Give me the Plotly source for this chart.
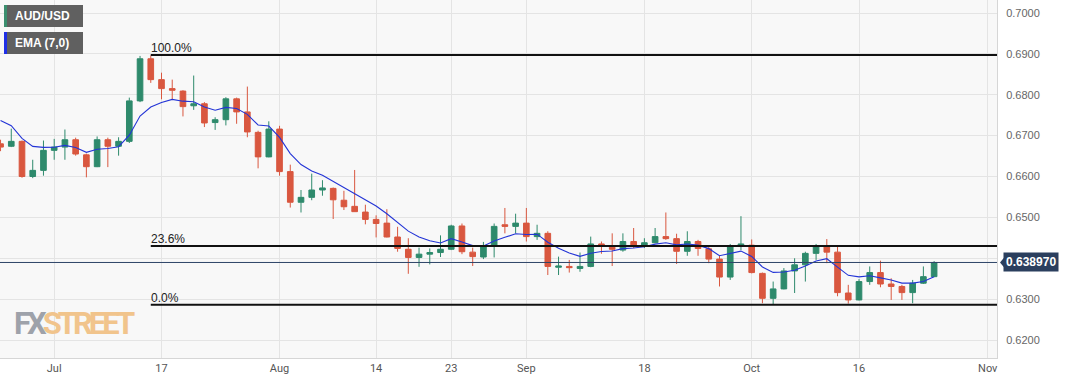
import numpy as np
import plotly.graph_objects as go

dates = ["2023-06-26","2023-06-27","2023-06-28","2023-06-29","2023-06-30",
         "2023-07-03","2023-07-04","2023-07-05","2023-07-06","2023-07-07",
         "2023-07-10","2023-07-11","2023-07-12","2023-07-13","2023-07-14",
         "2023-07-17","2023-07-18","2023-07-19","2023-07-20","2023-07-21",
         "2023-07-24","2023-07-25","2023-07-26","2023-07-27","2023-07-28",
         "2023-07-31","2023-08-01","2023-08-02","2023-08-03","2023-08-04",
         "2023-08-07","2023-08-08","2023-08-09","2023-08-10","2023-08-11",
         "2023-08-14","2023-08-15","2023-08-16","2023-08-17","2023-08-18",
         "2023-08-21","2023-08-22","2023-08-23","2023-08-24","2023-08-25",
         "2023-08-28","2023-08-29","2023-08-30","2023-08-31","2023-09-01",
         "2023-09-04","2023-09-05","2023-09-06","2023-09-07","2023-09-08",
         "2023-09-11","2023-09-12","2023-09-13","2023-09-14","2023-09-15",
         "2023-09-18","2023-09-19","2023-09-20","2023-09-21","2023-09-22",
         "2023-09-25","2023-09-26","2023-09-27","2023-09-28","2023-09-29",
         "2023-10-02","2023-10-03","2023-10-04","2023-10-05","2023-10-06",
         "2023-10-09","2023-10-10","2023-10-11","2023-10-12","2023-10-13",
         "2023-10-16","2023-10-17","2023-10-18","2023-10-19","2023-10-20",
         "2023-10-23","2023-10-24","2023-10-25"]

open_ = [0.6680,0.6674,0.6686,0.6600,0.6615, 0.6664,0.6672,0.6690,0.6653,0.6624,
         0.6690,0.6674,0.6686,0.6785,0.6888, 0.6837,0.6815,0.6809,0.6773,0.6778,
         0.6732,0.6739,0.6790,0.6758,0.6708, 0.6648,0.6716,0.6612,0.6537,0.6549,
         0.6567,0.6571,0.6542,0.6527,0.6513, 0.6495,0.6486,0.6452,0.6422,0.6402,
         0.6410,0.6414,0.6422,0.6479,0.6415, 0.6403,0.6430,0.6482,0.6478,0.6486,
         0.6453,0.6461,0.6378,0.6380,0.6375, 0.6380,0.6435,0.6427,0.6420,0.6441,
         0.6430,0.6438,0.6453,0.6448,0.6417, 0.6441,0.6423,0.6398,0.6354,0.6430,
         0.6432,0.6363,0.6302,0.6325,0.6369, 0.6384,0.6412,0.6428,0.6415,0.6315,
         0.6298,0.6343,0.6365,0.6337,0.6331, 0.6316,0.6339,0.6355]
high = [0.6690,0.6717,0.6688,0.6641,0.6688, 0.6692,0.6715,0.6695,0.6656,0.6698,
        0.6695,0.6696,0.6793,0.6895,0.6896, 0.6854,0.6837,0.6811,0.6847,0.6782,
        0.6745,0.6794,0.6793,0.6820,0.6712, 0.6735,0.6724,0.6629,0.6567,0.6607,
        0.6591,0.6573,0.6565,0.6616,0.6531, 0.6505,0.6520,0.6477,0.6449,0.6426,
        0.6424,0.6456,0.6482,0.6485,0.6426, 0.6440,0.6485,0.6523,0.6509,0.6523,
        0.6482,0.6466,0.6404,0.6396,0.6414, 0.6453,0.6441,0.6461,0.6461,0.6474,
        0.6449,0.6474,0.6512,0.6460,0.6466, 0.6445,0.6430,0.6406,0.6435,0.6503,
        0.6446,0.6365,0.6343,0.6376,0.6400, 0.6416,0.6435,0.6447,0.6428,0.6335,
        0.6349,0.6380,0.6394,0.6351,0.6335, 0.6347,0.6380,0.6393]
low = [0.6662,0.6672,0.6597,0.6596,0.6602, 0.6641,0.6641,0.6651,0.6598,0.6623,
       0.6623,0.6651,0.6682,0.6782,0.6829, 0.6789,0.6788,0.6747,0.6763,0.6721,
       0.6714,0.6725,0.6729,0.6696,0.6620, 0.6647,0.6602,0.6524,0.6512,0.6542,
       0.6553,0.6496,0.6518,0.6514,0.6483, 0.6451,0.6451,0.6416,0.6362,0.6379,
       0.6385,0.6403,0.6420,0.6410,0.6381, 0.6398,0.6402,0.6461,0.6461,0.6441,
       0.6445,0.6359,0.6359,0.6365,0.6367, 0.6378,0.6411,0.6381,0.6416,0.6425,
       0.6425,0.6437,0.6445,0.6386,0.6406, 0.6406,0.6388,0.6331,0.6347,0.6420,
       0.6363,0.6290,0.6288,0.6324,0.6315, 0.6343,0.6396,0.6388,0.6307,0.6289,
       0.6297,0.6335,0.6329,0.6298,0.6298, 0.6290,0.6337,0.6354]
close = [0.6672,0.6686,0.6600,0.6615,0.6664, 0.6672,0.6690,0.6655,0.6624,0.6690,
         0.6674,0.6686,0.6785,0.6888,0.6837, 0.6815,0.6811,0.6771,0.6778,0.6731,
         0.6739,0.6790,0.6758,0.6709,0.6648, 0.6716,0.6612,0.6537,0.6549,0.6567,
         0.6572,0.6543,0.6526,0.6514,0.6495, 0.6485,0.6452,0.6424,0.6402,0.6410,
         0.6414,0.6422,0.6479,0.6416,0.6404, 0.6428,0.6478,0.6478,0.6486,0.6453,
         0.6461,0.6380,0.6381,0.6377,0.6380, 0.6435,0.6429,0.6422,0.6441,0.6429,
         0.6438,0.6453,0.6448,0.6417,0.6441, 0.6424,0.6398,0.6354,0.6428,0.6435,
         0.6365,0.6302,0.6325,0.6369,0.6384, 0.6412,0.6431,0.6415,0.6316,0.6298,
         0.6343,0.6365,0.6337,0.6331,0.6316, 0.6339,0.6355,0.63897]
ema7 = [0.67370,0.67243,0.66932,0.66737,0.66713, 0.66715,0.66761,0.66708,0.66591,0.66668,
        0.66686,0.66730,0.67010,0.67478,0.67701, 0.67813,0.67887,0.67843,0.67827,0.67698,
        0.67621,0.67691,0.67663,0.67520,0.67260, 0.67235,0.66956,0.66560,0.66293,0.66137,
        0.66033,0.65882,0.65727,0.65580,0.65423, 0.65280,0.65090,0.64878,0.64663,0.64522,
        0.64427,0.64375,0.64479,0.64399,0.64309, 0.64302,0.64422,0.64512,0.64599,0.64582,
        0.64589,0.64392,0.64247,0.64128,0.64046, 0.64122,0.64164,0.64178,0.64236,0.64250,
        0.64283,0.64345,0.64379,0.64327,0.64348, 0.64321,0.64236,0.64062,0.64117,0.64175,
        0.64044,0.63788,0.63654,0.63663,0.63707, 0.63810,0.63935,0.63989,0.63782,0.63582,
        0.63544,0.63571,0.63521,0.63468,0.63391, 0.63391,0.63431,0.63548]

tick_dates = ["2023-07-03","2023-07-17","2023-08-01","2023-08-14","2023-08-23",
              "2023-09-01","2023-09-18","2023-10-02","2023-10-16","2023-11-01"]
tick_labels = ["Jul","17","Aug","14","23","Sep","18","Oct","16","Nov"]

fib_start = "2023-07-14"
fib_levels = [0.6897, 0.6430, 0.6286]
fib_labels = ["100.0%", "23.6%", "0.0%"]

y_ticks = [0.62, 0.63, 0.64, 0.65, 0.66, 0.67, 0.68, 0.69, 0.70]

origin = dates[0]
xs = np.busday_count(origin, dates)
tick_x = np.busday_count(origin, tick_dates)
fib_x = int(np.busday_count(origin, fib_start))

GREEN = "#2e8a6c"
RED = "#d9573f"
NAVY = "#2b3f5e"

fig = go.Figure()
fig.add_trace(go.Candlestick(
    x=xs, open=open_, high=high, low=low, close=close,
    increasing=dict(line=dict(color=GREEN, width=1), fillcolor=GREEN),
    decreasing=dict(line=dict(color=RED, width=1), fillcolor=RED),
    whiskerwidth=0, showlegend=False, hoverinfo="skip"))
fig.add_trace(go.Scatter(x=xs, y=ema7, mode="lines",
                         line=dict(color="#2334d6", width=1.1),
                         showlegend=False, hoverinfo="skip"))

shapes = []
annotations = []
for lvl, lab in zip(fib_levels, fib_labels):
    shapes.append(dict(type="line", xref="x", yref="y", x0=fib_x, x1=200,
                       y0=lvl, y1=lvl, line=dict(color="#111111", width=2)))
    annotations.append(dict(x=fib_x, y=lvl, xref="x", yref="y", text=lab,
                            showarrow=False, xanchor="left", yanchor="bottom",
                            xshift=-2, yshift=-2,
                            font=dict(family="Liberation Sans, Arial", size=12, color="#222222")))

last = close[-1]
shapes.append(dict(type="line", xref="paper", yref="y", x0=0, x1=1, y0=last, y1=last,
                   line=dict(color="#2e4467", width=1)))
# price tag arrow
shapes.append(dict(type="path", xref="paper", yref="y", xsizemode="pixel", ysizemode="pixel",
                   xanchor=1, yanchor=last, path="M 3,0 L 8,6 L 8,-6 Z",
                   fillcolor=NAVY, line=dict(width=0)))
annotations.append(dict(x=1, y=last, xref="paper", yref="y", text="<b>%.6f</b>" % last,
                        showarrow=False, xanchor="left", yanchor="middle", xshift=6,
                        bgcolor=NAVY, borderpad=2,
                        font=dict(family="Liberation Sans, Arial", size=12, color="white")))

# legend boxes
legend_items = [("AUD/USD", "#3b8f6f"), ("EMA (7,0)", "#1f2fe6")]
for i, (name, col) in enumerate(legend_items):
    top = -5 - i * 27
    shapes.append(dict(type="rect", xref="paper", yref="paper", xsizemode="pixel", ysizemode="pixel",
                       xanchor=0, yanchor=1, x0=4, x1=83, y0=top, y1=top - 22,
                       fillcolor="#606060", line=dict(width=0)))
    shapes.append(dict(type="rect", xref="paper", yref="paper", xsizemode="pixel", ysizemode="pixel",
                       xanchor=0, yanchor=1, x0=4, x1=7, y0=top, y1=top - 22,
                       fillcolor=col, line=dict(width=0)))
    annotations.append(dict(x=0, y=1, xref="paper", yref="paper", text="<b>%s</b>" % name,
                            showarrow=False, xanchor="left", yanchor="middle",
                            xshift=13, yshift=top - 11,
                            font=dict(family="Liberation Sans, Arial", size=12, color="white")))

# watermark
annotations.append(dict(x=0, y=0, xref="paper", yref="paper",
                        text="<b><span style='color:#9ea2aa;letter-spacing:-4px'>FX</span>"
                             "<span style='color:#f1c48c;letter-spacing:-4px'>STREET</span></b>",
                        showarrow=False, xanchor="left", yanchor="bottom", xshift=12, yshift=14,
                        font=dict(family="Roboto, Liberation Sans, sans-serif", size=31)))

fig.update_layout(
    width=1067, height=386,
    margin=dict(l=0, r=70, t=0, b=28),
    paper_bgcolor="white", plot_bgcolor="#f8f8f8",
    shapes=shapes, annotations=annotations,
    xaxis=dict(range=[-0.05, 92.86], tickmode="array", tickvals=tick_x, ticktext=tick_labels,
               showgrid=True, gridcolor="#e4e4e4", gridwidth=1, zeroline=False,
               rangeslider=dict(visible=False), showline=True, linecolor="#d6d6d6", mirror=True,
               ticks="", tickfont=dict(family="Roboto, Liberation Sans, sans-serif",
                                       size=11, color="#555555")),
    yaxis=dict(range=[0.6156, 0.70318], side="right", tickmode="array", tickvals=y_ticks,
               tickformat=".4f", showgrid=True, gridcolor="#e4e4e4", zeroline=False,
               showline=True, linecolor="#d6d6d6", mirror=True, ticks="",
               ticklabelstandoff=6,
               tickfont=dict(family="Liberation Sans, Arial", size=11, color="#666666")),
    boxgap=0.25,
    hovermode=False,
)

fig.write_html("out.html", config={"displayModeBar": False},
               post_script="document.body.style.margin='0';document.body.style.padding='0';")
